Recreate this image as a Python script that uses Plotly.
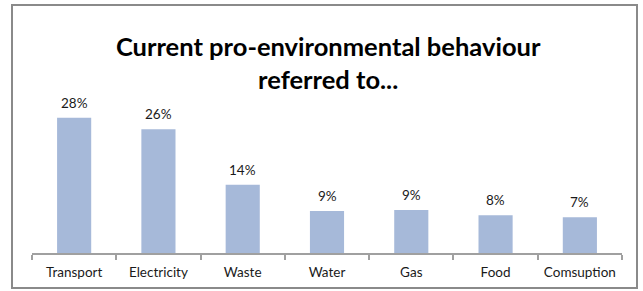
import plotly.graph_objects as go

categories = ["Transport", "Electricity", "Waste", "Water", "Gas", "Food", "Comsuption"]
values = [28.0, 25.6, 14.1, 8.7, 8.9, 7.8, 7.4]
value_labels = ["28%", "26%", "14%", "9%", "9%", "8%", "7%"]
title_text = "Current pro-environmental behaviour<br>referred to..."

W, H = 643, 291
L, R, T, B = 32, 21, 108, 38
pw, ph = W - L - R, H - T - B

def px_x(x):
    return (x - L) / pw

def px_y(y):
    return (H - B - y) / ph

fig = go.Figure(go.Bar(
    x=categories, y=values, cliponaxis=False,
    marker=dict(color="#A6B9D9", line=dict(width=0)),
    hoverinfo="skip",
))

annotations = [
    dict(x=c, y=v, text=t, xref="x", yref="y", showarrow=False,
         yanchor="middle", yshift=15,
         font=dict(size=13.5, family="Lato", color="#1a1a1a"))
    for c, v, t in zip(categories, values, value_labels)
]

fig.update_layout(
    width=W, height=H,
    margin=dict(l=L, r=R, t=T, b=B, pad=0),
    paper_bgcolor="white", plot_bgcolor="white",
    showlegend=False, bargap=0.595,
    title=dict(text="<b>" + title_text + "</b>", x=0.502, xanchor="center",
               xref="paper", y=1 - 56 / H, yanchor="middle", yref="container",
               font=dict(size=25.5, family="Lato", color="black")),
    font=dict(family="Lato", size=13.5, color="#1a1a1a"),
    annotations=annotations,
    shapes=[dict(type="rect", xref="paper", yref="paper",
                 x0=px_x(12), x1=px_x(637), y0=px_y(288), y1=px_y(5),
                 line=dict(color="#8a8a8a", width=2))],
)
fig.update_xaxes(showline=True, linecolor="#a0a0a0", linewidth=1.5,
                 ticks="outside", tickson="boundaries", ticklen=5,
                 tickcolor="#a0a0a0", tickwidth=1.5, showgrid=False,
                 ticklabelstandoff=6,
                 tickfont=dict(size=13.5, family="Lato", color="#1a1a1a"))
fig.update_yaxes(range=[0, 30], visible=False, showgrid=False)

fig.write_html("out.html", config={"displayModeBar": False},
               post_script="document.body.style.margin='0';document.body.style.overflow='hidden';")
